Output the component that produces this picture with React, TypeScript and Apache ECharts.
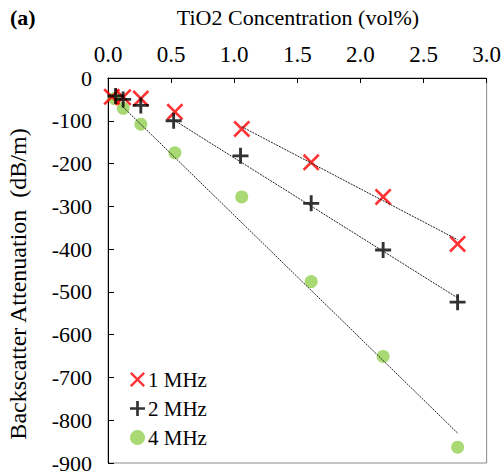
import React, { useEffect, useRef } from "react";
import * as echarts from "echarts";

const xTickLabels = ["0.0", "0.5", "1.0", "1.5", "2.0", "2.5", "3.0"];
const seriesNames = ["1 MHz", "2 MHz", "4 MHz"];

const x1MHz = [0.03, 0.12, 0.26, 0.53, 1.06, 1.61, 2.18, 2.77];
const y1MHz = [-44, -45, -48, -79, -119, -197, -278, -388];
const x2MHz = [0.06, 0.12, 0.26, 0.52, 1.05, 1.61, 2.18, 2.77];
const y2MHz = [-42, -50, -64, -100, -182, -293, -402, -524];
const x4MHz = [0.05, 0.12, 0.26, 0.53, 1.06, 1.61, 2.18, 2.77];
const y4MHz = [-48, -71, -108, -175, -278, -476, -651, -863];

const trend1X = [1.06, 2.77];
const trend1Y = [-114, -378];
const trend2X = [0.52, 2.77];
const trend2Y = [-98, -514];
const trend4X = [0.12, 2.77];
const trend4Y = [-68, -830];

const SERIF = "Liberation Serif";
const X_PATH =
  "path://M0,1.1 L1.1,0 L5,3.9 L8.9,0 L10,1.1 L6.1,5 L10,8.9 L8.9,10 L5,6.1 L1.1,10 L0,8.9 L3.9,5 Z";
const PLUS_PATH =
  "path://M4.1,0 H5.9 V4.1 H10 V5.9 H5.9 V10 H4.1 V5.9 H0 V4.1 H4.1 Z";

const zip = (xs: number[], ys: number[]) => xs.map((x, i) => [x, ys[i]]);

export default function App() {
  const ref = useRef<HTMLDivElement>(null);
  useEffect(() => {
    if (!ref.current) return;
    const chart = echarts.init(ref.current, undefined, { renderer: "svg" });
    const trendStyle = { color: "#222", width: 1, type: [2, 1] as any };
    chart.setOption({
      animation: false,
      backgroundColor: "#fff",
      textStyle: { fontFamily: SERIF, color: "#000" },
      grid: {
        left: 108,
        right: 15,
        top: 78,
        bottom: 11,
        show: true,
        borderColor: "#888",
        borderWidth: 1,
      },
      legend: {
        orient: "vertical",
        left: 125,
        top: 364,
        itemWidth: 15,
        itemHeight: 15,
        itemGap: 8,
        data: seriesNames,
        textStyle: { fontFamily: SERIF, fontSize: 21, color: "#000", padding: [0, 0, 0, -2] },
      },
      graphic: [
        {
          type: "text",
          left: 10,
          top: 6,
          style: { text: "(a)", fontFamily: SERIF, fontWeight: "bold", fontSize: 22, fill: "#000" },
        },
        {
          type: "text",
          x: 298,
          y: 17,
          style: {
            text: "TiO2 Concentration (vol%)",
            fontFamily: SERIF,
            fontSize: 22,
            fill: "#000",
            align: "center",
            verticalAlign: "middle",
          },
        },
        {
          type: "text",
          x: 18,
          y: 284,
          rotation: Math.PI / 2,
          style: {
            text: "Backscatter Attenuation  (dB/m)",
            fontFamily: SERIF,
            fontSize: 24,
            fill: "#000",
            align: "center",
            verticalAlign: "middle",
          },
        },
      ],
      xAxis: {
        type: "value",
        position: "top",
        min: 0,
        max: 3,
        interval: 0.5,
        axisLine: { show: true, lineStyle: { color: "#000", width: 1 } },
        axisTick: { show: true, inside: true, length: 5, lineStyle: { color: "#000" } },
        splitLine: { show: false },
        axisLabel: {
          margin: 12,
          fontFamily: SERIF,
          fontSize: 23,
          color: "#000",
          formatter: (v: number) => xTickLabels[Math.round(v / 0.5)] ?? v.toFixed(1),
        },
      },
      yAxis: {
        type: "value",
        min: -900,
        max: 0,
        interval: 100,
        axisLine: { show: true, lineStyle: { color: "#000", width: 1 } },
        axisTick: { show: true, inside: true, length: 6, lineStyle: { color: "#000" } },
        splitLine: { show: false },
        axisLabel: { margin: 16, fontFamily: SERIF, fontSize: 22, color: "#000" },
      },
      series: [
        {
          name: "1 MHz",
          type: "scatter",
          symbol: X_PATH,
          symbolSize: 17,
          itemStyle: { color: "#ff0000" },
          data: zip(x1MHz, y1MHz),
          z: 3,
        },
        {
          name: "2 MHz",
          type: "scatter",
          symbol: PLUS_PATH,
          symbolSize: 16,
          itemStyle: { color: "#000" },
          data: zip(x2MHz, y2MHz),
          z: 4,
        },
        {
          name: "4 MHz",
          type: "scatter",
          symbol: "circle",
          symbolSize: 13,
          itemStyle: { color: "#92d050" },
          data: zip(x4MHz, y4MHz),
          z: 2,
        },
        {
          type: "line",
          data: zip(trend1X, trend1Y),
          symbol: "none",
          silent: true,
          lineStyle: trendStyle,
          z: 5,
        },
        {
          type: "line",
          data: zip(trend2X, trend2Y),
          symbol: "none",
          silent: true,
          lineStyle: trendStyle,
          z: 5,
        },
        {
          type: "line",
          data: zip(trend4X, trend4Y),
          symbol: "none",
          silent: true,
          lineStyle: trendStyle,
          z: 5,
        },
      ],
    });
    return () => chart.dispose();
  }, []);
  return (
    <div
      ref={ref}
      style={{ position: "fixed", left: 0, top: 0, width: 504, height: 474 }}
    />
  );
}
